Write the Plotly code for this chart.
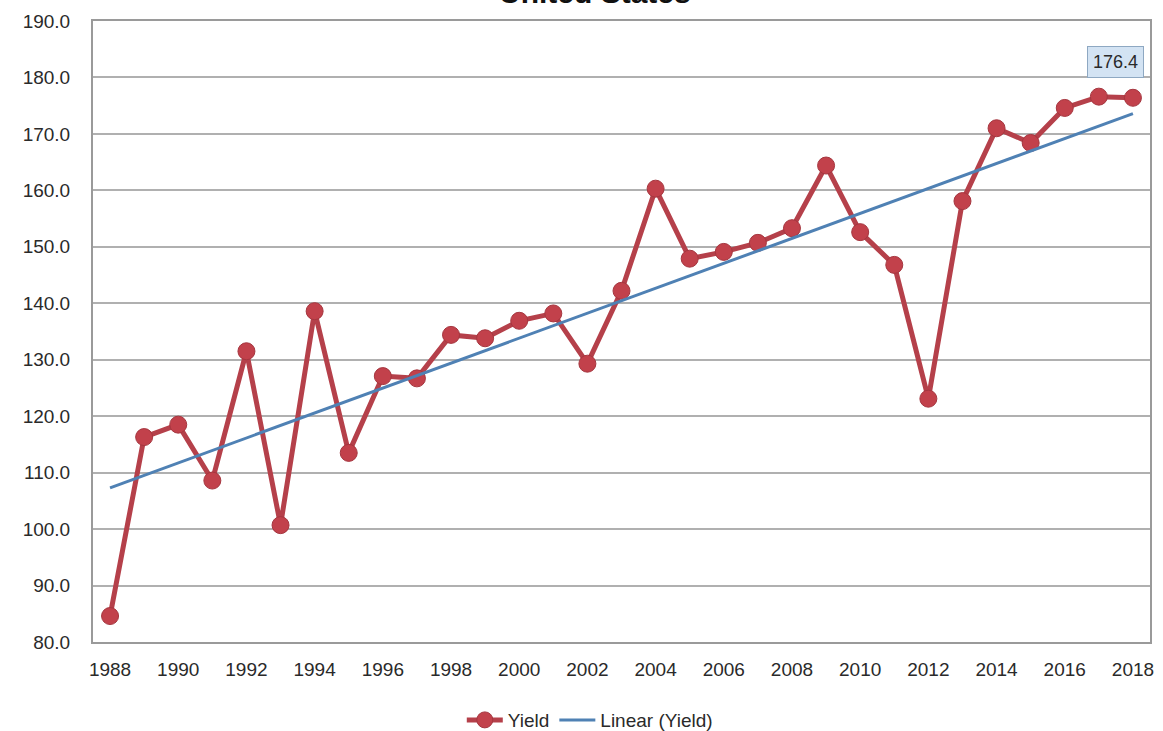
import plotly.graph_objects as go

# U.S. corn yield (bu/acre), 1988-2018
years = list(range(1988, 2019))
yield_values = [84.6, 116.3, 118.5, 108.6, 131.5, 100.7, 138.6, 113.5, 127.1, 126.7,
                134.4, 133.8, 136.9, 138.2, 129.3, 142.2, 160.3, 147.9, 149.1, 150.7,
                153.3, 164.4, 152.6, 146.8, 123.1, 158.1, 171.0, 168.4, 174.6, 176.6,
                176.4]

# Linear trend of yield: endpoint values
trend_years = [1988, 2018]
trend_values = [107.3, 173.6]

tick_years = list(range(1988, 2019, 2))
y_ticks = [80, 90, 100, 110, 120, 130, 140, 150, 160, 170, 180, 190]

RED = "#b5404a"
BLUE = "#4f81b4"
FONT = "Liberation Sans, Arial, sans-serif"
TXT = "#2a2a2a"

fig = go.Figure()

fig.add_trace(go.Scatter(
    x=years, y=yield_values, name="Yield", mode="lines+markers",
    line=dict(color=RED, width=5),
    marker=dict(size=17, color="#c2414b", line=dict(color="#a5363f", width=1)),
))

fig.add_trace(go.Scatter(
    x=trend_years, y=trend_values, name="Linear (Yield)", mode="lines",
    line=dict(color=BLUE, width=3),
))

# Label for the latest value
fig.add_annotation(
    x=years[-1], y=yield_values[-1], text=f"{yield_values[-1]:.1f}",
    xref="x", yref="y", showarrow=False, xanchor="center", yanchor="bottom",
    yshift=20, xshift=-17,
    font=dict(family=FONT, size=18, color=TXT),
    bgcolor="#d3e3f3", bordercolor="#8ea8c2", borderwidth=1, borderpad=5,
)

# Chart title sitting above the plot frame
fig.add_annotation(
    x=0.475, y=1.016, xref="paper", yref="paper", xanchor="center", yanchor="bottom",
    text="<b>United States</b>", showarrow=False,
    font=dict(family=FONT, size=30, color="#111"),
)

fig.update_layout(
    width=1163, height=731,
    margin=dict(l=93, r=13, t=21, b=89, autoexpand=False),
    paper_bgcolor="white", plot_bgcolor="white",
    font=dict(family=FONT, size=19, color=TXT),
    showlegend=True,
    legend=dict(orientation="h", x=0.47, xanchor="center",
                y=0.015, yref="container", yanchor="middle",
                font=dict(family=FONT, size=19, color=TXT), itemwidth=36,
                traceorder="normal"),
    xaxis=dict(range=[1987.5, 2018.5], tickmode="array", tickvals=tick_years,
               ticktext=[str(y) for y in tick_years], showgrid=False,
               showline=True, linecolor="#9a9a9a", linewidth=2, mirror=True,
               ticks="", zeroline=False, ticklabelstandoff=9, automargin=False,
               tickfont=dict(family=FONT, size=19, color=TXT)),
    yaxis=dict(range=[80, 190], tickmode="array", tickvals=y_ticks,
               ticktext=[f"{v:.1f}" for v in y_ticks],
               showgrid=True, gridcolor="#b0b0b0", gridwidth=1.5,
               showline=True, linecolor="#9a9a9a", linewidth=2, mirror=True,
               ticks="", zeroline=False, ticklabelstandoff=17, automargin=False,
               tickfont=dict(family=FONT, size=19, color=TXT)),
)

fig.write_html("out.html")
